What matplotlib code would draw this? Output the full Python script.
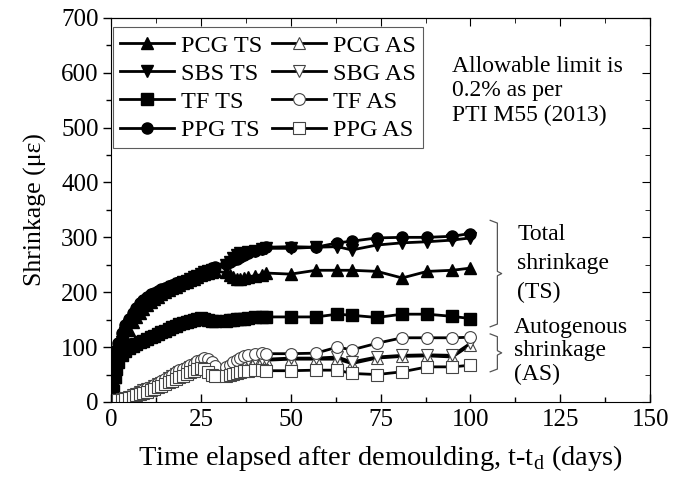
import numpy as np
import matplotlib
matplotlib.use("Agg")
import matplotlib.pyplot as plt
from matplotlib.ticker import MultipleLocator

plt.rcParams['font.family'] = ['Liberation Serif', 'DejaVu Serif']
plt.rcParams['mathtext.fontset'] = 'custom'
plt.rcParams['mathtext.rm'] = 'Liberation Serif'

# time after demoulding (days)
days = [0, 0.5, 1, 1.5, 2,
        3, 4, 5, 6, 7, 8, 9, 10, 11, 12, 13, 14, 15, 16, 17, 18, 19, 20, 21, 22,
        23, 24, 25, 26, 27, 28, 29,
        32, 33, 34, 35, 36, 37, 38,
        40, 42, 43,
        50, 57, 63, 67, 74, 81, 88, 95, 100]

# total shrinkage (TS), micro-strain
pcg_ts = [0, 20, 45, 65, 80,
          100, 118, 132, 145, 155, 163, 170, 176, 182, 187, 192, 196, 200, 204, 207, 210, 213, 216, 219, 222,
          225, 228, 231, 233, 235, 237, 238,
          236, 232, 228, 225, 224, 226, 228,
          230, 232, 235,
          233, 240, 240, 240, 238, 226, 238, 240, 244]
sbs_ts = [0, 25, 55, 75, 90,
          110, 125, 140, 150, 160, 168, 175, 181, 186, 191, 195, 199, 203, 206, 209, 212, 215, 218, 221, 224,
          227, 230, 233, 236, 238, 240, 242,
          250, 255, 262, 268, 272, 268, 274,
          276, 278, 280,
          280, 282, 283, 277, 286, 290, 292, 295, 299]
tf_ts = [0, 20, 45, 60, 72,
         85, 92, 98, 102, 106, 109, 112, 115, 118, 121, 124, 127, 130, 133, 136, 139, 142, 144, 146, 148,
         150, 152, 153, 152, 150, 148, 147,
         148, 149, 150, 151, 152, 152, 153,
         154, 155, 155,
         155, 155, 160, 158, 154, 160, 160, 156, 152]
ppg_ts = [0, 40, 75, 95, 108,
          125, 140, 152, 163, 172, 180, 186, 192, 196, 199, 202, 205, 208, 211, 213, 216, 218, 220, 222, 224,
          227, 230, 234, 238, 241, 244, 246,
          252, 255, 258, 261, 264, 268, 271,
          275, 279, 282,
          283, 282, 290, 293, 299, 300, 300, 302, 307]

# autogenous shrinkage (AS), micro-strain
pcg_as = [0, 1, 2, 3, 4,
          5, 6, 8, 11, 14, 17, 20, 22, 25, 28, 31, 34, 37, 41, 45, 49, 52, 55, 58, 61,
          64, 67, 70, 72, 68, 62, 56,
          55, 58, 62, 66, 70, 73, 75,
          76, 77, 76,
          78, 78, 78, 70, 80, 83, 84, 82, 104]
sbg_as = [0, 1, 2, 3, 4,
          5, 7, 9, 12, 15, 18, 21, 24, 26, 29, 32, 35, 39, 43, 47, 51, 54, 57, 60, 63,
          66, 69, 72, 74, 70, 64, 58,
          57, 60, 64, 68, 72, 75, 77,
          78, 79, 78,
          80, 80, 82, 73, 82, 85, 86, 85, 107]
tf_as = [0, 1, 2, 3, 4,
         6, 8, 10, 13, 16, 19, 22, 25, 28, 31, 34, 38, 42, 46, 50, 55, 58, 61, 64, 67,
         70, 74, 77, 80, 78, 72, 66,
         64, 68, 72, 76, 80, 84, 86,
         88, 89, 88,
         88, 89, 100, 95, 107, 117, 117, 117, 118]
ppg_as = [0, 0, 1, 2, 3,
          4, 5, 7, 9, 12, 14, 17, 19, 22, 24, 27, 30, 33, 36, 39, 42, 45, 48, 51, 54,
          57, 60, 62, 60, 55, 50, 48,
          47, 49, 51, 53, 55, 56, 57,
          58, 58, 57,
          57, 58, 58, 52, 50, 55, 64, 64, 67]

ts_series = [("PCG TS", pcg_ts, '^'), ("SBS TS", sbs_ts, 'v'),
             ("TF TS", tf_ts, 's'), ("PPG TS", ppg_ts, 'o')]
as_series = [("PCG AS", pcg_as, '^'), ("SBG AS", sbg_as, 'v'),
             ("TF AS", tf_as, 'o'), ("PPG AS", ppg_as, 's')]

fig = plt.figure(figsize=(6.73, 4.82), dpi=100)
ax = fig.add_axes([0.165, 0.166, 0.801, 0.797])

for name, vals, mk in ts_series:
    ax.plot(days, vals, color='black', lw=2, marker=mk, ms=8,
            mfc='black', mec='black', label=name)
for name, vals, mk in as_series:
    ax.plot(days, vals, color='black', lw=2, marker=mk, ms=8.5,
            mfc='white', mec='#444444', mew=0.8, label=name)

ax.set_xlim(0, 150)
ax.set_ylim(0, 700)
ax.xaxis.set_major_locator(MultipleLocator(25))
ax.xaxis.set_minor_locator(MultipleLocator(12.5))
ax.yaxis.set_major_locator(MultipleLocator(100))
ax.yaxis.set_minor_locator(MultipleLocator(50))
ax.tick_params(axis='y', which='both', direction='out', left=True, right=False, labelsize=18, pad=3)
ax.tick_params(axis='x', which='both', direction='in', top=False, labelsize=18, pad=5)
ax.tick_params(which='major', length=6, width=1)
ax.tick_params(which='minor', length=3.5, width=1)
# inward ticks on top and right
sec_x = ax.secondary_xaxis('top')
sec_x.xaxis.set_major_locator(MultipleLocator(25))
sec_x.xaxis.set_minor_locator(MultipleLocator(12.5))
sec_x.tick_params(which='both', direction='in', labeltop=False)
sec_x.tick_params(which='major', length=6)
sec_x.tick_params(which='minor', length=3.5)
sec_y = ax.secondary_yaxis('right')
sec_y.yaxis.set_major_locator(MultipleLocator(100))
sec_y.yaxis.set_minor_locator(MultipleLocator(50))
sec_y.tick_params(which='both', direction='in', labelright=False)
sec_y.tick_params(which='major', length=6)
sec_y.tick_params(which='minor', length=3.5)

ax.set_xlabel("Time elapsed after demoulding, t-t$_\\mathregular{d}$ (days)", fontsize=20.5, labelpad=9)
ax.set_ylabel("Shrinkage (\u03bc\u03b5)", fontsize=18.5, labelpad=10)

leg = ax.legend(ncol=2, loc='upper left', bbox_to_anchor=(0.004, 0.975), fontsize=17.5,
                frameon=True, fancybox=False, edgecolor='#333333', handlelength=2.2,
                handletextpad=0.3, columnspacing=0.4, labelspacing=0.25, borderpad=0.3,
                borderaxespad=0)
leg.get_frame().set_linewidth(0.8)

ax.text(95.0, 630, "Allowable limit is\n0.2% as per\nPTI M55 (2013)", fontsize=17,
        va='top', ha='left', linespacing=1.2)

# braces
def brace(ax, x0, x1, y_top, y_bot):
    ym = (y_top + y_bot) / 2
    xs = [x0, x1, x1, x1 + 1.2, x1, x1, x0]
    ys = [y_top, y_top - 5, ym + 4, ym, ym - 4, y_bot + 5, y_bot]
    ax.plot(xs, ys, color='#555555', lw=0.9, clip_on=False)

brace(ax, 105.5, 107.5, 331, 137)
brace(ax, 105.5, 107.5, 124, 55)

ax.text(113, 252, "Total\nshrinkage\n(TS)", fontsize=17, va='center', ha='left', linespacing=1.5)
ax.text(112, 93, "Autogenous\nshrinkage\n(AS)", fontsize=17, va='center', ha='left', linespacing=1.15)

fig.savefig("out.png", dpi=100)
